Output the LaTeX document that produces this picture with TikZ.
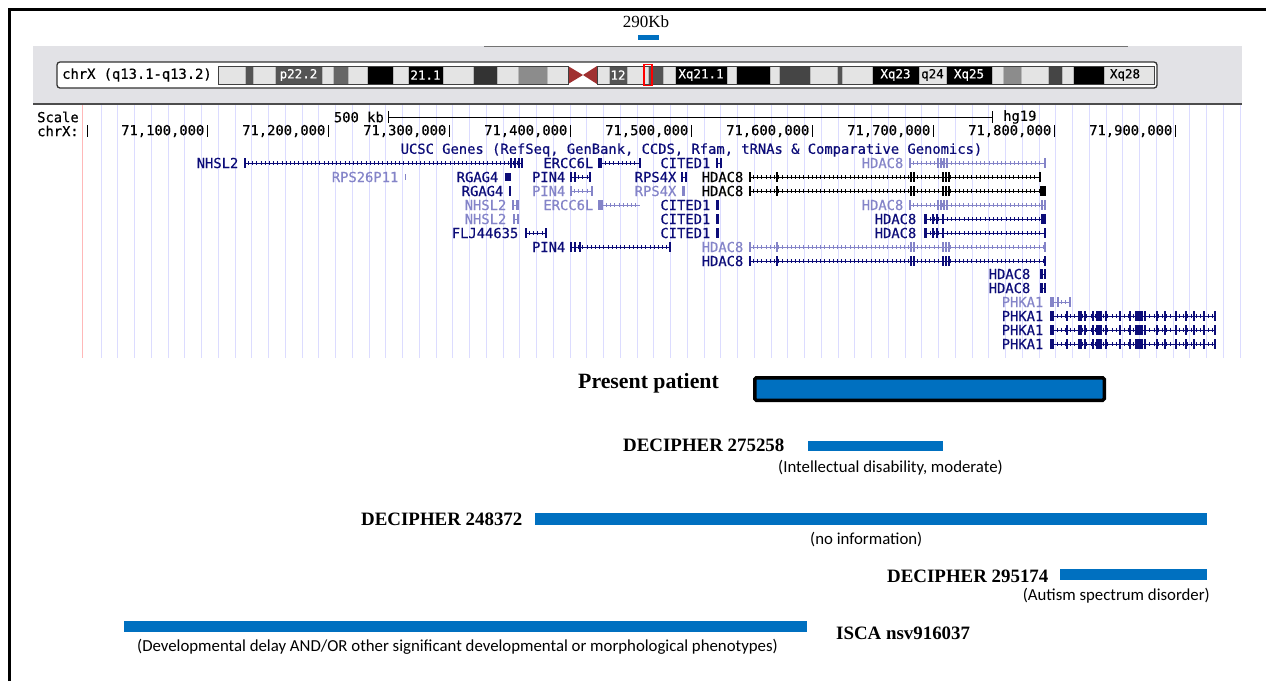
\documentclass[tikz,border=0pt]{standalone}
\usepackage{fontspec}
\setmainfont{Liberation Serif}
\newfontfamily\ucscfont[FakeBold=0.5]{DejaVu Sans Mono}
\newfontfamily\calfont{Carlito}
\definecolor{navyg}{HTML}{0C0C78}
\definecolor{lightg}{HTML}{8484C8}
\definecolor{barblue}{HTML}{0070C0}
\definecolor{panel}{HTML}{E2E2E6}
\definecolor{gridb}{HTML}{DCDCFF}
\definecolor{gridr}{HTML}{FFB8B8}
\definecolor{bandl}{HTML}{E4E4E4}
\definecolor{cen}{HTML}{A03030}
\tikzset{
  mono/.style={font=\ucscfont\fontsize{13.8}{14}\selectfont, inner sep=0pt},
  gname/.style={mono, anchor=east, xshift=-2.5pt},
  bandtxt/.style={font=\ucscfont\fontsize{12.5}{13}\selectfont, inner sep=0pt},
  navytrack/.style={color=navyg},
  lighttrack/.style={color=lightg},
  blacktrack/.style={color=black},
  band/.style={draw=gray!55, line width=0.5},
  serifbold/.style={font=\fontsize{18.9}{20}\selectfont\bfseries, inner sep=0pt},
  note/.style={font=\calfont\fontsize{16.8}{18}\selectfont, inner sep=0pt},
}
% gene drawing helpers: intron line with strand ticks, thin exon, exon block, exon list
\newcommand\gintron[3]{\draw[line width=0.9] (#2,#1) -- (#3,#1);
  \draw[line width=3.6, dash pattern=on 0.8 off 3.4] (#2+3,#1) -- (#3-2,#1);}
\newcommand\gexon[2]{\fill (#2-0.8,#1-5) rectangle (#2+0.8,#1+5);}
\newcommand\gblock[3]{\fill (#2,#1-5) rectangle (#3,#1+5);}
\newcommand\gexons[2]{\foreach \q in {#2} {\fill (\q-0.8,#1-5) rectangle (\q+0.8,#1+5);}}
\begin{document}
\begin{tikzpicture}[x=1pt,y=-1pt]
\useasboundingbox (0,0) rectangle (1266,681);
% outer frame
\draw[line width=3] (9.5,681) -- (9.5,9.5) -- (1266,9.5);
% browser header panel
\fill[panel] (33,46) rectangle (1242,104);
\draw[black!55, line width=1] (484,46.5) -- (1128,46.5);
\draw[black!70, line width=2.2] (33,104) -- (1242,104);
% size marker
\node[font=\fontsize{17}{18}\selectfont, inner sep=0pt] (kb) at (646,22) {290Kb};
\fill[barblue] (638,35) rectangle (659,40);
% chromosome ideogram
\draw[black!80, line width=1.3, fill=white, rounded corners=3] (57,62) rectangle (1157,88);
\node[mono, anchor=west] (chrlab) at (62,75) {chrX (q13.1-q13.2)};
\foreach \a/\b/\c in {218/245/bandl, 245/253/black!67, 253/275/bandl, 275/322/black!67,
  322/333/bandl, 333/348/black!60, 348/367/bandl, 367/393/black, 393/408/bandl,
  408/443/black, 443/473/bandl, 473/497/black!80, 497/518/bandl, 518/547/black!45,
  547/568/bandl, 597/609/bandl, 609/627/black!67, 627/648/bandl, 648/663/black!67,
  663/675/bandl, 675/727/black, 727/736/bandl, 736/770/black, 770/779/bandl,
  779/810/black!73, 810/837/bandl, 837/842/black!67, 842/872/bandl, 872/919/black,
  919/946/bandl, 946/992/black, 992/1003/bandl, 1003/1021/black!45, 1021/1048/bandl,
  1048/1062/black!73, 1062/1073/bandl, 1073/1104/black, 1104/1154/bandl}
  {\fill[\c] (\a,66) rectangle (\b,84); \draw[band] (\a,66) rectangle (\b,84);}
\fill[cen] (568,66) -- (583,75) -- (568,84) -- cycle;
\fill[cen] (597,66) -- (583,75) -- (597,84) -- cycle;
\draw[black!75, line width=0.9] (218,66) rectangle (568,84);
\draw[black!75, line width=0.9] (597,66) rectangle (1154,84);
\node[bandtxt, text=white] (b1) at (298.5,75) {p22.2};
\node[bandtxt, text=white] (b2) at (425.5,75) {21.1};
\node[bandtxt, text=white] (b3) at (618,75) {12};
\node[bandtxt, text=white] (b4) at (701,75) {Xq21.1};
\node[bandtxt, text=white] (b5) at (895.5,75) {Xq23};
\node[bandtxt] (b6) at (932.5,75) {q24};
\node[bandtxt, text=white] (b7) at (969,75) {Xq25};
\node[bandtxt] (b8) at (1125,75) {Xq28};
\draw[red, line width=1.8] (644,64.5) rectangle (652,85.5);
% guide lines
\draw[gridr, line width=0.9] (82,105) -- (82,358);
\foreach \i in {0,...,68} {\draw[gridb, line width=0.8] ({101+16.75*\i},105) -- ({101+16.75*\i},358);}
% scale and position rulers
\node[mono, anchor=west] (scl) at (37,117) {Scale};
\node[mono, anchor=east] (kb500) at (384,117) {500 kb};
\draw[line width=0.9] (388,117) -- (992,117);
\draw[line width=0.9] (388,111) -- (388,123);
\draw[line width=0.9] (992,111) -- (992,123);
\node[mono, anchor=west] (hg) at (1003,117) {hg19};
\node[mono, anchor=west] (chrx) at (37,131) {chrX:};
\draw[line width=1] (87,125) -- (87,137);
\foreach \lab [count=\k from 0] in {71{,}100{,}000, 71{,}200{,}000, 71{,}300{,}000, 71{,}400{,}000,
  71{,}500{,}000, 71{,}600{,}000, 71{,}700{,}000, 71{,}800{,}000, 71{,}900{,}000}
  {\node[mono, anchor=east] (pos\k) at ({204.5+121*\k},131) {\lab};
   \draw[line width=1] ({207+121*\k},125) -- ({207+121*\k},137);}
% gene track
\node[mono, text=navyg] (trk) at (691.5,150) {UCSC Genes (RefSeq, GenBank, CCDS, Rfam, tRNAs \& Comparative Genomics)};
% row 1
\begin{scope}[navytrack]
  \node[gname] (r1a) at (241,163) {NHSL2};
  \gintron{163}{245}{522} \gexons{163}{245,511,515,519,522}
  \node[gname] (r1b) at (596,163) {ERCC6L};
  \gblock{163}{598}{602} \gintron{163}{602}{640} \gexon{163}{640}
  \node[gname] (r1c) at (713,163) {CITED1};
  \draw[line width=0.9] (716,163) -- (722,163); \gblock{163}{716}{718} \gblock{163}{720}{722}
\end{scope}
\begin{scope}[lighttrack]
  \node[gname] (r1d) at (906,163) {HDAC8};
  \gintron{163}{910}{1045} \gexons{163}{910,938,941,944,947,1045}
\end{scope}
% row 2
\begin{scope}[lighttrack]
  \node[gname] (r2a) at (401,177) {RPS26P11};
  \draw[line width=1] (405,174) -- (405,180);
\end{scope}
\begin{scope}[navytrack]
  \node[gname] (r2b) at (501,177) {RGAG4};
  \fill (505,173) rectangle (511,181);
  \node[gname] (r2c) at (568,177) {PIN4};
  \gintron{177}{571}{590} \gexons{177}{571,575,590}
  \node[gname] (r2d) at (679,177) {RPS4X};
  \draw[line width=0.9] (681,177) -- (687,177); \gblock{177}{681}{683} \gblock{177}{685}{687}
\end{scope}
\begin{scope}[blacktrack]
  \node[gname] (r2e) at (746,177) {HDAC8};
  \gintron{177}{750}{1040} \gexons{177}{750,777,911,914,943,946,949,1040}
\end{scope}
% row 3
\begin{scope}[navytrack]
  \node[gname] (r3a) at (506,191) {RGAG4};
  \gexon{191}{510}
\end{scope}
\begin{scope}[lighttrack]
  \node[gname] (r3b) at (568,191) {PIN4};
  \gintron{191}{571}{592} \gexons{191}{571,592}
  \node[gname] (r3c) at (679,191) {RPS4X};
  \gblock{191}{682}{685}
\end{scope}
\begin{scope}[blacktrack]
  \node[gname] (r3d) at (746,191) {HDAC8};
  \gintron{191}{750}{1042} \gexons{191}{750,777,911,914,943,946,949} \gblock{191}{1040}{1046}
\end{scope}
% row 4
\begin{scope}[lighttrack]
  \node[gname] (r4a) at (509,205) {NHSL2};
  \draw[line width=0.9] (513,205) -- (518,205); \gexon{205}{513} \gblock{205}{516}{519}
  \node[gname] (r4b) at (596,205) {ERCC6L};
  \gblock{205}{598}{603} \gintron{205}{603}{640}
  \node[gname] (r4d) at (906,205) {HDAC8};
  \gintron{205}{910}{1045} \gexons{205}{910,938,941,944,947,1042,1045}
\end{scope}
\begin{scope}[navytrack]
  \node[gname] (r4c) at (713,205) {CITED1};
  \gblock{205}{716}{719}
\end{scope}
% row 5
\begin{scope}[lighttrack]
  \node[gname] (r5a) at (509,219) {NHSL2};
  \draw[line width=0.9] (513,219) -- (519,219); \gblock{219}{513}{515} \gblock{219}{517}{519}
\end{scope}
\begin{scope}[navytrack]
  \node[gname] (r5b) at (713,219) {CITED1};
  \gblock{219}{716}{719}
  \node[gname] (r5c) at (919,219) {HDAC8};
  \gblock{219}{924}{927} \gintron{219}{927}{1042} \gexons{219}{933,937,943} \gblock{219}{1041}{1046}
\end{scope}
% row 6
\begin{scope}[navytrack]
  \node[gname] (r6a) at (521,233) {FLJ44635};
  \gintron{233}{526}{546} \gexons{233}{526,546}
  \node[gname] (r6b) at (713,233) {CITED1};
  \gblock{233}{716}{719}
  \node[gname] (r6c) at (919,233) {HDAC8};
  \gblock{233}{924}{927} \gintron{233}{927}{1045} \gexons{233}{933,937,943,1045}
\end{scope}
% row 7
\begin{scope}[navytrack]
  \node[gname] (r7a) at (568,247) {PIN4};
  \gintron{247}{571}{670} \gexons{247}{571,575,580,670}
\end{scope}
\begin{scope}[lighttrack]
  \node[gname] (r7b) at (746,247) {HDAC8};
  \gintron{247}{750}{1045} \gexons{247}{750,777,911,914,943,946,949,1045}
\end{scope}
% row 8
\begin{scope}[navytrack]
  \node[gname] (r8a) at (746,261) {HDAC8};
  \gintron{261}{750}{1045} \gexons{261}{750,777,911,914,943,946,949,1045}
% rows 9 and 10
  \node[gname] (r9a) at (1033,274) {HDAC8};
  \draw[line width=0.9] (1040,274) -- (1046,274); \gblock{274}{1040}{1042.5} \gblock{274}{1044}{1046}
  \node[gname] (r10a) at (1033,288) {HDAC8};
  \draw[line width=0.9] (1040,288) -- (1046,288); \gblock{288}{1040}{1042.5} \gblock{288}{1044}{1046}
\end{scope}
% row 11
\begin{scope}[lighttrack]
  \node[gname] (r11a) at (1046,302) {PHKA1};
  \gblock{302}{1050}{1054} \gintron{302}{1054}{1070} \gexons{302}{1058,1070}
\end{scope}
% rows 12 to 14
\begin{scope}[navytrack]
  \foreach \yy [count=\n] in {316,330,344} {
    \node[gname] (ph\n) at (1046,\yy) {PHKA1};
    \gblock{\yy}{1050}{1054} \gintron{\yy}{1054}{1215}
    \gexons{\yy}{1067,1079,1081,1085,1093,1097,1099,1101,1106,1120,1130,1136,1138,1140,1142,1145,1157,1165,1176,1186,1194,1204,1215}
  }
\end{scope}
% patient and database deletions
\node[serifbold, font=\fontsize{21.8}{23}\selectfont\bfseries, anchor=west] (pp) at (578,383.5) {Present patient};
\draw[line width=3.5, rounded corners=1.5, fill=barblue] (754.75,377.75) rectangle (1104.25,400.25);
\node[serifbold, anchor=west] (d1) at (623,445.5) {DECIPHER 275258};
\fill[barblue] (808,441) rectangle (943,451);
\node[note, anchor=west] (n1) at (778,468) {(Intellectual disability, moderate)};
\node[serifbold, anchor=west] (d2) at (361,519.5) {DECIPHER 248372};
\fill[barblue] (535,513) rectangle (1207,525);
\node[note, anchor=west] (n2) at (810,540) {(no information)};
\node[serifbold, anchor=west] (d3) at (887,576.5) {DECIPHER 295174};
\fill[barblue] (1060,569) rectangle (1207,580);
\node[note, anchor=east] (n3) at (1210,596) {(Autism spectrum disorder)};
\fill[barblue] (124,621) rectangle (807,632);
\node[serifbold, anchor=west] (d4) at (836,633.5) {ISCA nsv916037};
\node[note, anchor=west] (n4) at (137,647) {(Developmental delay AND/OR other significant developmental or morphological phenotypes)};
\end{tikzpicture}
\end{document}
